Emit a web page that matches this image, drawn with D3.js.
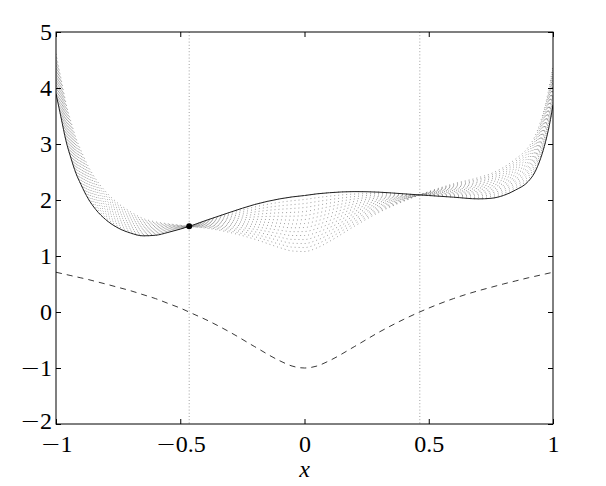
<!DOCTYPE html>
<html><head><meta charset="utf-8">
<script src="https://cdn.jsdelivr.net/npm/d3@7"></script>
<style>html,body{margin:0;padding:0;background:#fff;}svg{display:block;}</style>
</head><body>
<script>
// x sample positions
const xs = [-1, -0.98, -0.96, -0.94, -0.92, -0.9, -0.87, -0.84, -0.8, -0.75, -0.7, -0.65, -0.6, -0.55, -0.5, -0.45, -0.4, -0.3, -0.2, -0.1, -0.05, 0, 0.05, 0.1, 0.2, 0.3, 0.4, 0.5, 0.6, 0.7, 0.75, 0.8, 0.85, 0.9, 0.925, 0.95, 0.97, 0.99, 1];
// solid curve values
const solidY = [3.90, 3.48, 3.06, 2.75, 2.48, 2.28, 2.02, 1.83, 1.65, 1.50, 1.41, 1.36, 1.37, 1.42, 1.48, 1.55, 1.63, 1.78, 1.92, 2.02, 2.055, 2.08, 2.11, 2.13, 2.15, 2.14, 2.11, 2.08, 2.05, 2.02, 2.03, 2.08, 2.18, 2.33, 2.48, 2.74, 3.04, 3.44, 3.70];
// dashed curve values
const dashedY = [0.71, 0.69, 0.67, 0.65, 0.63, 0.61, 0.58, 0.545, 0.50, 0.44, 0.38, 0.31, 0.24, 0.155, 0.07, -0.03, -0.13, -0.36, -0.62, -0.87, -0.965, -1.0, -0.965, -0.87, -0.62, -0.36, -0.13, 0.07, 0.24, 0.38, 0.44, 0.50, 0.555, 0.61, 0.635, 0.66, 0.68, 0.70, 0.71];
// weights of the dashed curve added to the solid one, for each dotted curve
const familyWeights = [0, 0.071, 0.143, 0.214, 0.286, 0.357, 0.429, 0.5, 0.571, 0.643, 0.714, 0.786, 0.857, 0.929, 1.0];
// vertical dotted guide lines
const guideX = [-0.464, 0.464];
// marked point
const markX = [-0.464];
const markY = [1.53];
// ticks
const xTicks = [-1, -0.5, 0, 0.5, 1];
const yTicks = [-2, -1, 0, 1, 2, 3, 4, 5];

const W = 606, H = 486;
const L = 56, R = 553, T = 32, B = 424;
const FONT = '"Liberation Serif"';
const svg = d3.select("body").append("svg").attr("width", W).attr("height", H);
svg.append("rect").attr("width", W).attr("height", H).attr("fill", "#fff");

const x = d3.scaleLinear().domain([-1, 1]).range([L, R]);
const y = d3.scaleLinear().domain([-2, 5]).range([B, T]);

svg.append("clipPath").attr("id", "clip").append("rect")
  .attr("x", L).attr("y", T).attr("width", R - L).attr("height", B - T);
const plot = svg.append("g").attr("clip-path", "url(#clip)");

const line = d3.line().x(d => x(d[0])).y(d => y(d[1])).curve(d3.curveMonotoneX);

// guide lines
plot.selectAll(".guide").data(guideX).join("line")
  .attr("x1", d => x(d)).attr("x2", d => x(d)).attr("y1", T).attr("y2", B)
  .attr("stroke", "#888").attr("stroke-width", 0.8).attr("stroke-dasharray", "1,2.2");

// dotted family
plot.selectAll(".fam").data(familyWeights).join("path")
  .attr("d", w => line(xs.map((v, i) => [v, solidY[i] + w * dashedY[i]])))
  .attr("fill", "none").attr("stroke", "#7a7a7a").attr("stroke-width", 0.8)
  .attr("stroke-dasharray", "0.9,3.1");

// dashed curve
plot.append("path").attr("d", line(xs.map((v, i) => [v, dashedY[i]])))
  .attr("fill", "none").attr("stroke", "#222").attr("stroke-width", 0.9)
  .attr("stroke-dasharray", "6,5");

// solid curve
plot.append("path").attr("d", line(xs.map((v, i) => [v, solidY[i]])))
  .attr("fill", "none").attr("stroke", "#222").attr("stroke-width", 1);

// marker
plot.selectAll(".mark").data(markX).join("circle")
  .attr("cx", (d) => x(d)).attr("cy", (d, i) => y(markY[i])).attr("r", 3).attr("fill", "#000");

// frame
svg.append("rect").attr("x", L).attr("y", T).attr("width", R - L).attr("height", B - T)
  .attr("fill", "none").attr("stroke", "#000").attr("stroke-width", 1);

// axes with inward ticks
const tk = 5;
const fmt = v => String(Math.abs(v));
const xb = svg.append("g").attr("transform", `translate(0,${B})`)
  .call(d3.axisBottom(x).tickValues(xTicks).tickSize(-tk).tickPadding(tk + 6).tickFormat(fmt));
const xt = svg.append("g").attr("transform", `translate(0,${T})`)
  .call(d3.axisTop(x).tickValues(xTicks).tickSize(-tk).tickFormat(""));
const yl = svg.append("g").attr("transform", `translate(${L},0)`)
  .call(d3.axisLeft(y).tickValues(yTicks).tickSize(-tk).tickPadding(4).tickFormat(fmt));
const yr = svg.append("g").attr("transform", `translate(${R},0)`)
  .call(d3.axisRight(y).tickValues(yTicks).tickSize(-tk).tickFormat(""));
[xb, xt, yl, yr].forEach(g => {
  g.attr("font-family", null).attr("font-size", null);
  g.select(".domain").remove();
  g.selectAll(".tick line").attr("stroke", "#000").attr("stroke-width", 1);
  g.selectAll("text").style("font-family", FONT).style("font-size", "24px").attr("fill", "#000");
});
// wide minus sign (DejaVu Sans glyph) in front of negative labels
[xb, yl].forEach(g => {
  g.selectAll(".tick text").each(function (d) {
    if (d < 0) {
      const t = d3.select(this);
      const s = t.text();
      t.text(null);
      t.append("tspan").style("font-family", '"DejaVu Sans"').style("font-weight", "200").text("\u2212");
      t.append("tspan").text(s);
    }
  });
});
xb.selectAll(".tick text").attr("dy", "0.71em");
// lowest y label sits a little higher so it clears the first x label
yl.selectAll(".tick text").filter(d => d === -2).attr("dy", "0.2em");

// x axis label
svg.append("text").attr("x", x(0)).attr("y", 477).attr("text-anchor", "middle")
  .style("font-family", FONT).style("font-style", "italic").style("font-size", "24px").text("x");
</script>
</body></html>
